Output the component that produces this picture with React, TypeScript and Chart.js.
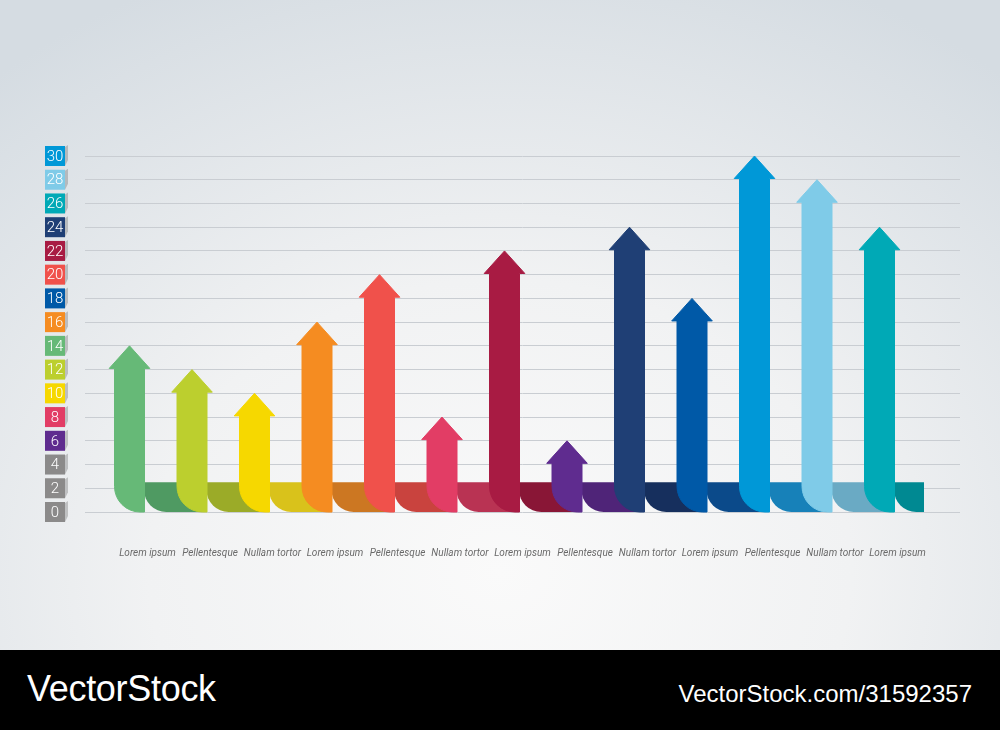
import React, { useEffect, useRef } from 'react';
import { Chart, registerables } from 'chart.js';

Chart.register(...registerables);

// ---- data ----
const categories = [
  'Lorem ipsum', 'Pellentesque', 'Nullam tortor',
  'Lorem ipsum', 'Pellentesque', 'Nullam tortor',
  'Lorem ipsum', 'Pellentesque', 'Nullam tortor',
  'Lorem ipsum', 'Pellentesque', 'Nullam tortor',
  'Lorem ipsum',
];
const values = [14, 12, 10, 16, 20, 8, 22, 6, 24, 18, 30, 28, 24];
const arrowColors = [
  '#66b977', '#bccf2e', '#f6d800', '#f58c21', '#f0514b', '#e23d65',
  '#a81b43', '#5f2c8f', '#1f3f75', '#0059a7', '#0098d7', '#7fcbe8', '#00a9b6',
];
const bandColors = [
  '#4f9a62', '#9bab28', '#d9c21b', '#cc7722', '#c9433e', '#b93353',
  '#891636', '#4f2478', '#162f5d', '#0b4a8a', '#1781b9', '#6aaac4', '#008992',
];
const yTickColors = [
  '#8b8a8a', '#8b8a8a', '#8b8a8a', '#5f2c8f', '#e23d65', '#f6d800',
  '#bccf2e', '#66b977', '#f58c21', '#0059a7', '#f0514b', '#a81b43',
  '#1f3f75', '#00a9b6', '#7fcbe8', '#0098d7',
];
const Y_MAX = 30;
const Y_STEP = 2;

// shape constants (in axis units)
const ARROW_SHIFT = 0.288; // arrow centre left of its label
const SHAFT_W = 0.48;
const HEAD_W = 0.65;
const HEAD_H = 1.9;
const BAND_LEVEL = 2.5;

const arrowPlugin = {
  id: 'arrowShapes',
  afterDatasetsDraw(chart: any) {
    const { ctx } = chart;
    const x = chart.scales.x;
    const y = chart.scales.y;
    const data = chart.data.datasets[0].data.map((d: any) => d.y) as number[];
    const unit = x.getPixelForValue(1) - x.getPixelForValue(0);
    const sw = unit * SHAFT_W;
    const hw = unit * HEAD_W;
    const base = y.getPixelForValue(0);
    const bandTop = y.getPixelForValue(BAND_LEVEL);
    const centers = data.map((_, i) => x.getPixelForValue(i - ARROW_SHIFT));
    ctx.save();
    // bands (ribbons along the floor)
    data.forEach((_, i) => {
      const left = centers[i] + sw / 2 - 0.5;
      const right = i < data.length - 1 ? centers[i + 1] + sw / 2 : left + sw;
      const r = (base - bandTop) * 0.75;
      ctx.fillStyle = bandColors[i];
      ctx.beginPath();
      ctx.moveTo(left, bandTop);
      ctx.lineTo(right, bandTop);
      ctx.lineTo(right, base);
      ctx.lineTo(left + r, base);
      ctx.arcTo(left, base, left, base - r, r);
      ctx.closePath();
      ctx.fill();
    });
    // arrows
    data.forEach((v, i) => {
      const cx = centers[i];
      const tip = y.getPixelForValue(v);
      const hb = y.getPixelForValue(v - HEAD_H);
      const r = sw * 0.85;
      ctx.fillStyle = arrowColors[i];
      ctx.strokeStyle = arrowColors[i];
      ctx.lineWidth = 1;
      ctx.lineJoin = 'round';
      ctx.beginPath();
      ctx.moveTo(cx - sw / 2, hb);
      ctx.lineTo(cx - hw / 2, hb);
      ctx.lineTo(cx, tip);
      ctx.lineTo(cx + hw / 2, hb);
      ctx.lineTo(cx + sw / 2, hb);
      ctx.lineTo(cx + sw / 2, base);
      ctx.lineTo(cx - sw / 2 + r, base);
      ctx.arcTo(cx - sw / 2, base, cx - sw / 2, base - r, r);
      ctx.closePath();
      ctx.fill();
      ctx.stroke();
    });
    ctx.restore();
  },
  afterDraw(chart: any) {
    const { ctx, chartArea } = chart;
    const y = chart.scales.y;
    const size = 20;
    const left = chartArea.left - 40;
    ctx.save();
    y.ticks.forEach((t: any, idx: number) => {
      const cy = y.getPixelForValue(t.value);
      const top = cy - size / 2;
      // slanted shadow on the right
      ctx.fillStyle = 'rgba(90,90,90,0.3)';
      ctx.beginPath();
      ctx.moveTo(left + size, top + 1);
      ctx.lineTo(left + size + 3, top - 1);
      ctx.lineTo(left + size + 3, top + size - 6);
      ctx.lineTo(left + size, top + size);
      ctx.closePath();
      ctx.fill();
      ctx.fillStyle = yTickColors[idx] || '#8b8a8a';
      ctx.fillRect(left, top, size, size);
      ctx.fillStyle = '#ffffff';
      ctx.font = '300 15px Roboto';
      ctx.textAlign = 'center';
      ctx.textBaseline = 'middle';
      ctx.fillText(String(t.label), left + size / 2, cy + 1);
    });
    ctx.restore();
  },
};

export default function App() {
  const ref = useRef<HTMLCanvasElement | null>(null);
  useEffect(() => {
    if (!ref.current) return;
    const chart = new Chart(ref.current, {
      type: 'bar',
      data: {
        datasets: [
          {
            label: 'Values',
            data: values.map((v, i) => ({ x: i, y: v })),
            backgroundColor: 'rgba(0,0,0,0)',
          },
        ],
      },
      options: {
        responsive: false,
        animation: false,
        devicePixelRatio: 1,
        layout: { padding: { left: 85, right: 40, top: 156, bottom: 56 } },
        plugins: { legend: { display: false }, tooltip: { enabled: false } },
        scales: {
          x: {
            type: 'linear',
            min: -1,
            max: 13,
            offset: false,
            grid: { display: false, drawTicks: false },
            border: { display: false },
            ticks: {
              stepSize: 1,
              autoSkip: false,
              maxRotation: 0,
              minRotation: 0,
              padding: 35,
              color: '#6a6a6a',
              font: { family: 'Roboto', size: 10, style: 'italic' },
              callback: (v: any) => (Number.isInteger(v) && categories[v] ? categories[v] : ''),
            },
          },
          y: {
            min: 0,
            max: Y_MAX,
            afterFit: (s: any) => { s.width = 0; },
            grid: { color: '#c9cdd2', lineWidth: 1, drawTicks: false },
            border: { display: false },
            ticks: { stepSize: Y_STEP, display: false },
          },
        },
      },
      plugins: [arrowPlugin],
    });
    return () => chart.destroy();
  }, []);

  return (
    <div style={{ position: 'fixed', left: 0, top: 0, width: 1000, height: 730, overflow: 'hidden' }}>
      <div
        style={{
          position: 'absolute', left: 0, top: 0, width: 1000, height: 650,
          background: 'radial-gradient(ellipse 78% 100% at 50% 88%, #fafafa 0%, #f1f2f3 45%, #d5dce2 100%)',
        }}
      />
      <canvas ref={ref} width={1000} height={650} style={{ position: 'absolute', left: 0, top: 0, width: 1000, height: 650 }} />
      <div style={{ position: 'absolute', left: 0, top: 650, width: 1000, height: 80, background: '#000' }}>
        <div style={{ position: 'absolute', left: 27, top: 21, fontFamily: '"Liberation Sans", Arial, sans-serif', fontSize: 36, lineHeight: '36px', color: '#fff', letterSpacing: -0.3, whiteSpace: 'nowrap' }}>
          VectorStock
        </div>
        <div style={{ position: 'absolute', right: 28, top: 32, fontFamily: '"Liberation Sans", Arial, sans-serif', fontSize: 24, lineHeight: '24px', color: '#fff', whiteSpace: 'nowrap' }}>
          VectorStock.com/31592357
        </div>
      </div>
    </div>
  );
}
